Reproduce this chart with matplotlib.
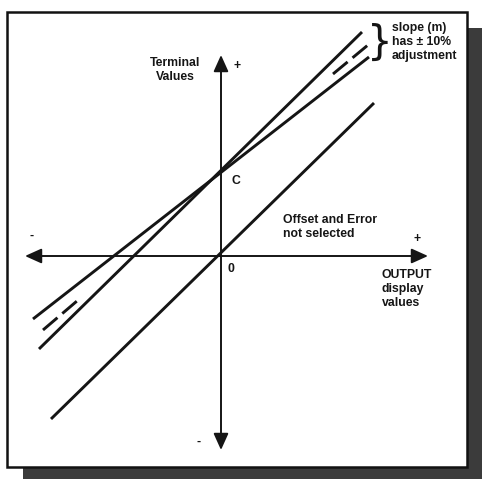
import matplotlib
matplotlib.use("Agg")
import matplotlib.pyplot as plt
from matplotlib.patches import Rectangle

# line end points, in display units with the origin at the axes crossing
ideal_x = [-170, 153]
ideal_y = [-163, 153]
steep_x = [-182, 141]      # slope m + 10%
steep_y = [-93, 224]
shallow_x = [-188, 148]    # slope m - 10%
shallow_y = [-63, 199]
# nominal slope, only drawn dashed at both ends
nominal_low_x = [-178, -144]
nominal_low_y = [-74, -45]
nominal_high_x = [112, 147]
nominal_high_y = [182, 211]

c_value = 85

fig = plt.figure(figsize=(4.82, 4.79), dpi=100)

# drop shadow and frame
shadow = "#3b3b3b"
fig.patches.append(Rectangle((467 / 482, 0), 15 / 482, 451 / 479, transform=fig.transFigure,
                             facecolor=shadow, edgecolor="none", zorder=0))
fig.patches.append(Rectangle((23 / 482, 0), 459 / 482, 12 / 479, transform=fig.transFigure,
                             facecolor=shadow, edgecolor="none", zorder=0))
fig.patches.append(Rectangle((7 / 482, 12 / 479), 460 / 482, 455 / 479, transform=fig.transFigure,
                             facecolor="white", edgecolor="#111111", lw=1.8, zorder=0))

ax = fig.add_axes([0, 0, 1, 1])
ax.set_zorder(2)
ax.set_xlim(-221, 261)
ax.set_ylim(-223, 256)
ax.axis("off")

ink = "#151515"
arrow = dict(arrowstyle="<|-|>,head_length=1.0,head_width=0.45", lw=1.4, color=ink,
             shrinkA=0, shrinkB=0)
ax.annotate("", xy=(207, 0), xytext=(-196, 0), arrowprops=arrow)
ax.annotate("", xy=(0, 201), xytext=(0, -194), arrowprops=arrow)

lw = 2.1
ax.plot(ideal_x, ideal_y, color=ink, lw=lw, solid_capstyle="butt")
ax.plot(steep_x, steep_y, color=ink, lw=lw, solid_capstyle="butt")
ax.plot(shallow_x, shallow_y, color=ink, lw=lw, solid_capstyle="butt")
for xs, ys in [(nominal_low_x, nominal_low_y), (nominal_high_x, nominal_high_y)]:
    ax.plot(xs, ys, color=ink, lw=lw, dashes=(6.5, 2.2), dash_capstyle="butt")

font = dict(family=["Liberation Sans", "DejaVu Sans"], fontweight="bold", color=ink, fontsize=8.8)

ax.text(-46, 186, "Terminal\nValues", ha="center", va="center", multialignment="center", **font)
ax.text(16, 190, "+", ha="center", va="center", **font)
ax.text(15, c_value - 10, "C", ha="center", va="center", **font)
ax.text(10, -13, "0", ha="center", va="center", **font)
ax.text(62, 29, "Offset and Error\nnot selected", ha="left", va="center", **font)
ax.text(196, 17, "+", ha="center", va="center", **font)
ax.text(161, -33, "OUTPUT\ndisplay\nvalues", ha="left", va="center", **font)
ax.text(-189, 20, "-", ha="center", va="center", **font)
ax.text(-22, -186, "-", ha="center", va="center", **font)

ax.text(159, 213, "}", ha="center", va="center", family="DejaVu Sans", fontsize=29, color=ink)
ax.text(171, 214, "slope (m)\nhas \u00b1 10%\nadjustment", ha="left", va="center", **font)

fig.savefig("out.png", dpi=100)
